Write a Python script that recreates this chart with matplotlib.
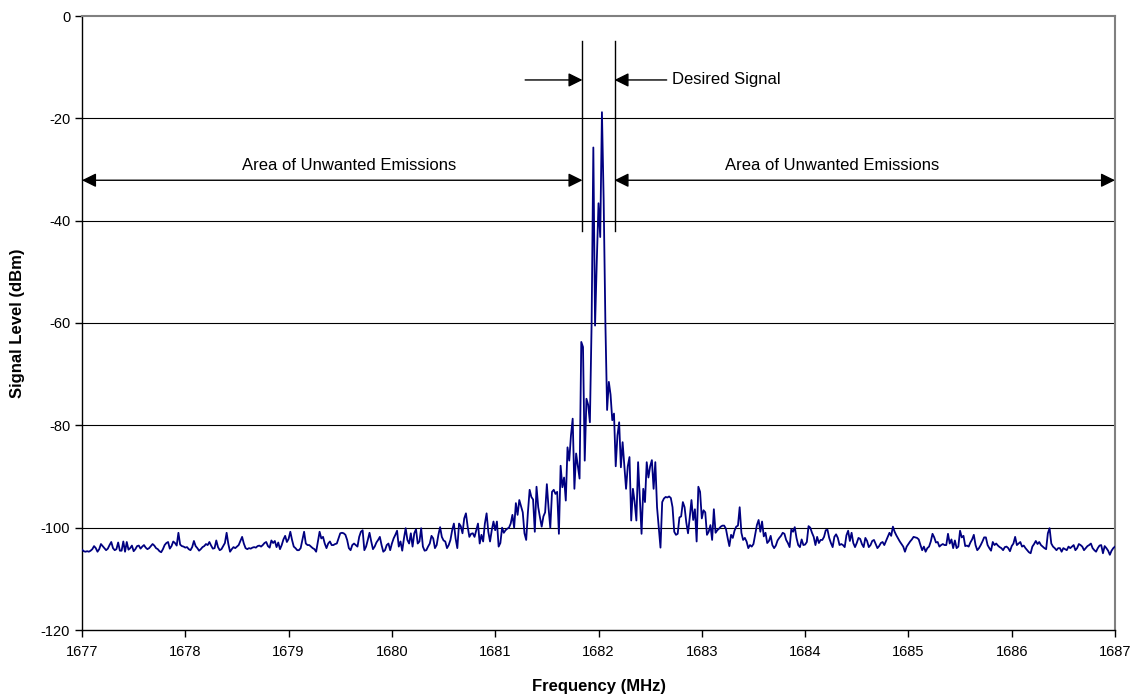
import numpy as np
import matplotlib
matplotlib.use("Agg")
import matplotlib.pyplot as plt

plt.rcParams['font.family'] = ['Liberation Sans', 'DejaVu Sans']

# Sweep: 1677 - 1687 MHz, 601 points
f_start, f_stop = 1677.0, 1687.0

level_1677_1679 = [
    -104.3, -104.6, -104.7, -104.6, -104.7, -104.5, -104.2, -103.6, -104.0, -104.7,
    -104.2, -103.2, -103.6, -104.0, -104.4, -104.1, -103.4, -102.8, -104.0, -104.4,
    -104.2, -102.9, -104.5, -104.5, -102.7, -104.7, -102.8, -104.3, -104.0, -103.5,
    -104.6, -104.2, -103.6, -103.5, -104.1, -103.7, -103.4, -103.9, -104.2, -104.0,
    -103.6, -103.2, -103.5, -104.0, -104.2, -104.6, -104.8, -104.2, -103.4, -103.0,
    -102.8, -104.1, -103.6, -102.7, -103.0, -103.5, -101.0, -103.3, -103.6, -103.7,
    -103.9, -103.8, -104.2, -104.4, -103.8, -102.6, -103.6, -104.0, -104.5, -104.2,
    -103.8, -103.6, -103.2, -103.4, -102.8, -103.5, -104.1, -104.0, -102.5, -103.8,
    -104.4, -104.2, -103.6, -103.0, -101.0, -103.2, -104.7, -104.2, -103.8, -104.0,
    -103.7, -103.4, -102.6, -101.8, -103.1, -104.0, -104.2, -104.0, -104.1, -103.9,
    -103.8, -103.9, -103.6, -103.5, -103.7, -103.4, -103.0, -102.8, -103.6, -103.9,
    -102.5, -103.0, -102.6, -103.8, -102.9, -104.2, -103.4, -102.3, -101.6, -102.8,
    -102.2,
]
level_1679_1681 = [
    -100.8, -102.4, -103.7, -104.0, -104.4, -104.4, -104.0, -102.4, -100.8, -103.1,
    -103.4, -103.4, -103.7, -104.0, -104.2, -104.7, -102.7, -100.8, -102.1, -101.8,
    -103.1, -104.0, -103.1, -102.7, -103.4, -103.4, -103.2, -103.1, -102.1, -101.1,
    -101.0, -101.1, -101.4, -102.4, -104.0, -104.4, -103.4, -103.1, -103.4, -103.7,
    -101.8, -100.8, -100.5, -104.4, -103.7, -102.4, -101.0, -102.7, -104.2, -103.7,
    -102.9, -102.4, -101.8, -103.4, -104.7, -104.4, -103.4, -103.1, -104.4, -103.1,
    -102.1, -101.4, -100.6, -103.7, -102.7, -104.5, -102.1, -100.1, -102.4, -103.1,
    -101.1, -103.7, -101.1, -100.3, -103.1, -102.7, -100.1, -103.7, -104.5, -104.4,
    -103.7, -103.1, -101.6, -102.1, -104.0, -103.4, -101.4, -99.9, -101.8, -102.5,
    -102.7, -104.0, -103.4, -102.4, -100.5, -99.2, -102.1, -104.0, -99.2, -99.7,
    -101.1, -98.2, -97.2, -99.8, -101.8, -101.2, -101.1, -101.8, -100.5, -99.2,
    -103.1, -101.4, -102.7, -99.2, -97.2, -100.8, -102.7, -100.5, -98.8, -100.5,
]
level_1681_1683 = [
    -98.8, -103.7, -103.0, -100.0, -101.0, -100.5, -100.2, -100.0, -99.2, -97.5,
    -100.0, -95.2, -97.5, -94.6, -95.8, -97.0, -101.1, -102.4, -97.0, -92.6,
    -94.0, -94.5, -100.8, -92.0, -96.0, -98.0, -99.8, -97.8, -97.0, -91.5,
    -96.2, -100.0, -93.0, -92.6, -93.4, -93.0, -101.2, -87.9, -92.1, -90.2,
    -94.7, -84.3, -86.9, -82.0, -78.7, -92.4, -85.5, -88.0, -90.4, -63.7,
    -64.7, -86.9, -74.8, -76.0, -79.4, -60.0, -25.7, -60.5, -48.0, -36.6,
    -43.2, -18.8, -36.0, -60.0, -77.0, -71.5, -74.0, -79.0, -77.7, -88.0,
    -82.0, -79.4, -88.2, -83.3, -88.0, -92.4, -88.0, -86.2, -98.6, -92.4,
    -95.0, -98.6, -87.2, -94.0, -101.2, -92.4, -95.0, -87.2, -90.2, -88.0,
    -86.8, -92.4, -87.2, -96.0, -100.0, -103.9, -95.0, -94.3, -94.0, -94.1,
    -93.9, -94.2, -96.0, -100.8, -101.4, -101.2, -98.0, -97.8, -95.0, -96.0,
    -99.0, -101.1, -98.0, -94.6, -98.5, -96.4, -102.7, -92.0, -93.0, -98.2,
]
level_1683_1685 = [
    -96.6, -97.0, -101.4, -100.8, -99.5, -102.4, -96.4, -101.0, -100.5, -100.2,
    -99.8, -99.6, -99.6, -100.2, -102.0, -103.6, -101.4, -102.0, -100.6, -99.8,
    -99.6, -96.0, -101.0, -102.4, -102.0, -102.7, -104.0, -103.4, -103.7, -103.2,
    -101.4, -99.5, -98.5, -100.8, -98.8, -101.7, -101.0, -103.0, -102.6, -101.6,
    -103.4, -104.0, -103.5, -102.5, -102.0, -101.6, -101.0, -101.2, -102.4, -103.0,
    -103.8, -100.3, -100.8, -99.9, -102.0, -103.4, -103.8, -102.3, -103.4, -103.3,
    -102.8, -99.7, -100.0, -101.0, -101.8, -103.4, -101.8, -103.0, -102.4, -102.4,
    -101.8, -100.5, -100.4, -102.0, -103.0, -103.8, -101.8, -101.3, -102.0, -103.4,
    -103.2, -103.4, -103.8, -101.5, -100.6, -102.6, -101.0, -103.0, -103.8, -103.0,
    -102.0, -102.2, -103.2, -103.8, -102.0, -102.6, -103.8, -103.4, -102.6, -102.4,
    -103.2, -104.0, -103.6, -103.0, -102.8, -103.4, -102.6, -101.8, -101.0, -101.6,
    -99.8, -100.8, -101.5, -102.1, -102.7, -103.2, -103.7, -104.7, -103.7, -103.2,
]
level_1685_1687 = [
    -102.7, -102.3, -101.8, -101.9, -102.0, -102.3, -103.4, -104.4, -103.7, -104.7,
    -104.0, -103.7, -102.7, -101.2, -101.9, -102.9, -102.8, -103.7, -103.4, -103.2,
    -103.4, -103.4, -101.2, -103.1, -102.3, -104.0, -102.5, -104.0, -103.7, -100.6,
    -101.9, -101.6, -103.6, -103.5, -103.7, -102.9, -102.3, -101.4, -103.4, -104.4,
    -104.0, -103.4, -102.7, -101.9, -101.9, -103.4, -104.0, -104.5, -102.8, -103.4,
    -103.1, -103.5, -103.8, -104.0, -104.4, -103.8, -103.7, -104.0, -104.6, -103.6,
    -103.1, -101.8, -103.4, -103.1, -102.8, -103.7, -103.5, -104.0, -104.4, -104.8,
    -105.0, -103.7, -103.2, -102.6, -103.2, -102.8, -103.4, -103.7, -104.0, -104.2,
    -101.1, -100.1, -103.1, -103.7, -104.0, -104.4, -104.0, -104.0, -104.7, -104.0,
    -104.2, -104.4, -103.7, -104.0, -103.7, -103.4, -104.4, -104.0, -103.2, -103.4,
    -103.7, -104.4, -104.0, -103.6, -103.4, -103.1, -104.0, -104.4, -104.7, -104.0,
    -103.5, -103.4, -105.0, -103.6, -104.0, -104.5, -105.3, -104.5, -104.0, -103.7,
]

level_dbm = np.array(level_1677_1679 + level_1679_1681 + level_1681_1683
                     + level_1683_1685 + level_1685_1687)
assert len(level_dbm) == 601, len(level_dbm)
freq_mhz = np.linspace(f_start, f_stop, len(level_dbm))

x_ticks = [1677, 1678, 1679, 1680, 1681, 1682, 1683, 1684, 1685, 1686, 1687]
y_ticks = [-120, -100, -80, -60, -40, -20, 0]

# annotation anchors (data units)
band_lo, band_hi = 1681.845, 1682.155
marker_top, marker_bottom = -4.8, -42.0
desired_y = -12.5
unwanted_y = -32.1
unwanted_label_x = [1679.59, 1684.26]

fig = plt.figure(figsize=(11.4, 6.96), dpi=100)
ax = fig.add_axes([82/1140, 66/696, (1115-82)/1140, (630-16)/696])

ax.set_xlim(f_start, f_stop)
ax.set_ylim(-120, 0)
ax.set_xticks(x_ticks)
ax.set_xticklabels([str(t) for t in x_ticks])
ax.set_yticks(y_ticks)
ax.set_yticklabels([str(t) for t in y_ticks])

for y in [-100, -80, -60, -40, -20]:
    ax.axhline(y, color='#000000', lw=0.8, zorder=1)

ax.plot(freq_mhz, level_dbm, color='#000080', lw=1.3, zorder=3)

for s in ['left', 'bottom']:
    ax.spines[s].set_color('black')
    ax.spines[s].set_linewidth(1.0)
for s in ['top', 'right']:
    ax.spines[s].set_color('#808080')
    ax.spines[s].set_linewidth(1.5)

ax.tick_params(axis='both', direction='out', length=5, width=1, labelsize=10.5, colors='black')
ax.tick_params(axis='x', pad=6)
ax.set_xlabel('Frequency (MHz)', fontsize=12, fontweight='bold', labelpad=14)
ax.set_ylabel('Signal Level (dBm)', fontsize=12, fontweight='bold', labelpad=11)

# vertical markers
for xv in (band_lo, band_hi):
    ax.plot([xv, xv], [marker_bottom, marker_top], color='black', lw=1.0, zorder=4)

arrow_kw = dict(arrowstyle='-|>,head_length=0.85,head_width=0.42', color='black',
                lw=1.0, shrinkA=0, shrinkB=0, mutation_scale=10)
ax.annotate('', xy=(band_lo, desired_y), xytext=(1681.29, desired_y), arrowprops=arrow_kw)
ax.annotate('', xy=(band_hi, desired_y), xytext=(1682.66, desired_y), arrowprops=arrow_kw)
ax.text(1682.71, desired_y, 'Desired Signal', fontsize=12, va='center', ha='left')

dbl_kw = dict(arrowstyle='<|-|>,head_length=0.85,head_width=0.42', color='black',
              lw=1.0, shrinkA=0, shrinkB=0, mutation_scale=10)
ax.annotate('', xy=(band_lo, unwanted_y), xytext=(f_start, unwanted_y), arrowprops=dbl_kw)
ax.annotate('', xy=(f_stop, unwanted_y), xytext=(band_hi, unwanted_y), arrowprops=dbl_kw)
for lx in unwanted_label_x:
    ax.text(lx, -29.2, 'Area of Unwanted Emissions', fontsize=12, ha='center', va='center')

fig.savefig('out.png', dpi=100)
